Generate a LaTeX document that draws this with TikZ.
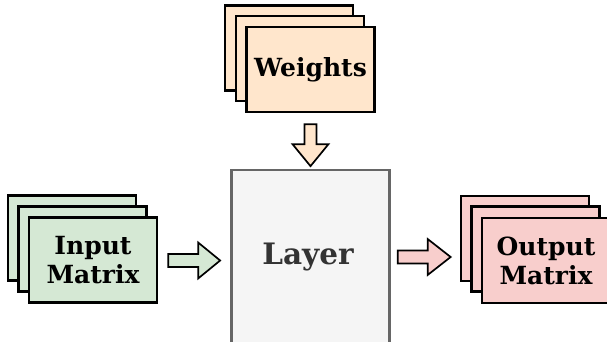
\documentclass[tikz,border=0pt]{standalone}
\usepackage{fontspec}
\setmainfont{DejaVu Serif}
\usetikzlibrary{calc}
\definecolor{gfill}{HTML}{D5E8D4}
\definecolor{ofill}{HTML}{FFE6CC}
\definecolor{rfill}{HTML}{F8CECC}
\definecolor{lfill}{HTML}{F5F5F5}
\definecolor{lborder}{HTML}{666666}
\definecolor{ltext}{HTML}{333333}
\tikzset{
  sheet/.style={draw=black, line width=2.3pt, minimum width=128pt, minimum height=85pt, inner sep=0pt, align=center,
    font=\fontsize{25}{29}\selectfont\bfseries},
  blockarrow/.style={draw=black, line width=1.7pt, line join=miter},
  layerbox/.style={draw=lborder, fill=lfill, line width=2.3pt, minimum width=158pt, minimum height=200pt, inner sep=0pt}
}
\begin{document}
\begin{tikzpicture}[x=1pt,y=-1pt]
\clip (0,0) rectangle (607,342);
\fill[white] (0,0) rectangle (607,342);
% Layer
\node[layerbox] (layer) at (310.5,270) {};
\node[font=\fontsize{29.5}{32}\selectfont\bfseries, text=ltext] (layertext) at (308,257) {Layer};
% Input stack
\node[sheet, fill=gfill] (in3) at (72,238) {};
\node[sheet, fill=gfill] (in2) at (82.5,249) {};
\node[sheet, fill=gfill] (in) at (93,260) {Input\\Matrix};
% Weights stack
\node[sheet, fill=ofill] (w3) at (289,48) {};
\node[sheet, fill=ofill] (w2) at (300,58.5) {};
\node[sheet, fill=ofill] (w) at (310.5,69.5) {Weights};
% Output stack
\node[sheet, fill=rfill] (out3) at (525,238.5) {};
\node[sheet, fill=rfill] (out2) at (535.5,249) {};
\node[sheet, fill=rfill] (out) at (546,260.5) {Output\\Matrix};
% Arrows
\coordinate (a1) at ($(in.east)+(10,0.5)$);
\draw[blockarrow, fill=gfill] (a1) ++(0,-6.5) -- ++(30,0) -- ++(0,-11.5) -- ++(22,18) -- ++(-22,18) -- ++(0,-11.5) -- ++(-30,0) -- cycle;
\coordinate (a2) at ($(layer.east)+(7,-13)$);
\draw[blockarrow, fill=rfill] (a2) ++(0,-6.5) -- ++(30,0) -- ++(0,-11.5) -- ++(23,18) -- ++(-23,18) -- ++(0,-11.5) -- ++(-30,0) -- cycle;
\coordinate (a3) at ($(w.south)+(0,11)$);
\draw[blockarrow, fill=ofill] (a3) ++(-6,0) -- ++(0,20) -- ++(-12,0) -- ++(18,22) -- ++(18,-22) -- ++(-12,0) -- ++(0,-20) -- cycle;
\end{tikzpicture}
\end{document}
